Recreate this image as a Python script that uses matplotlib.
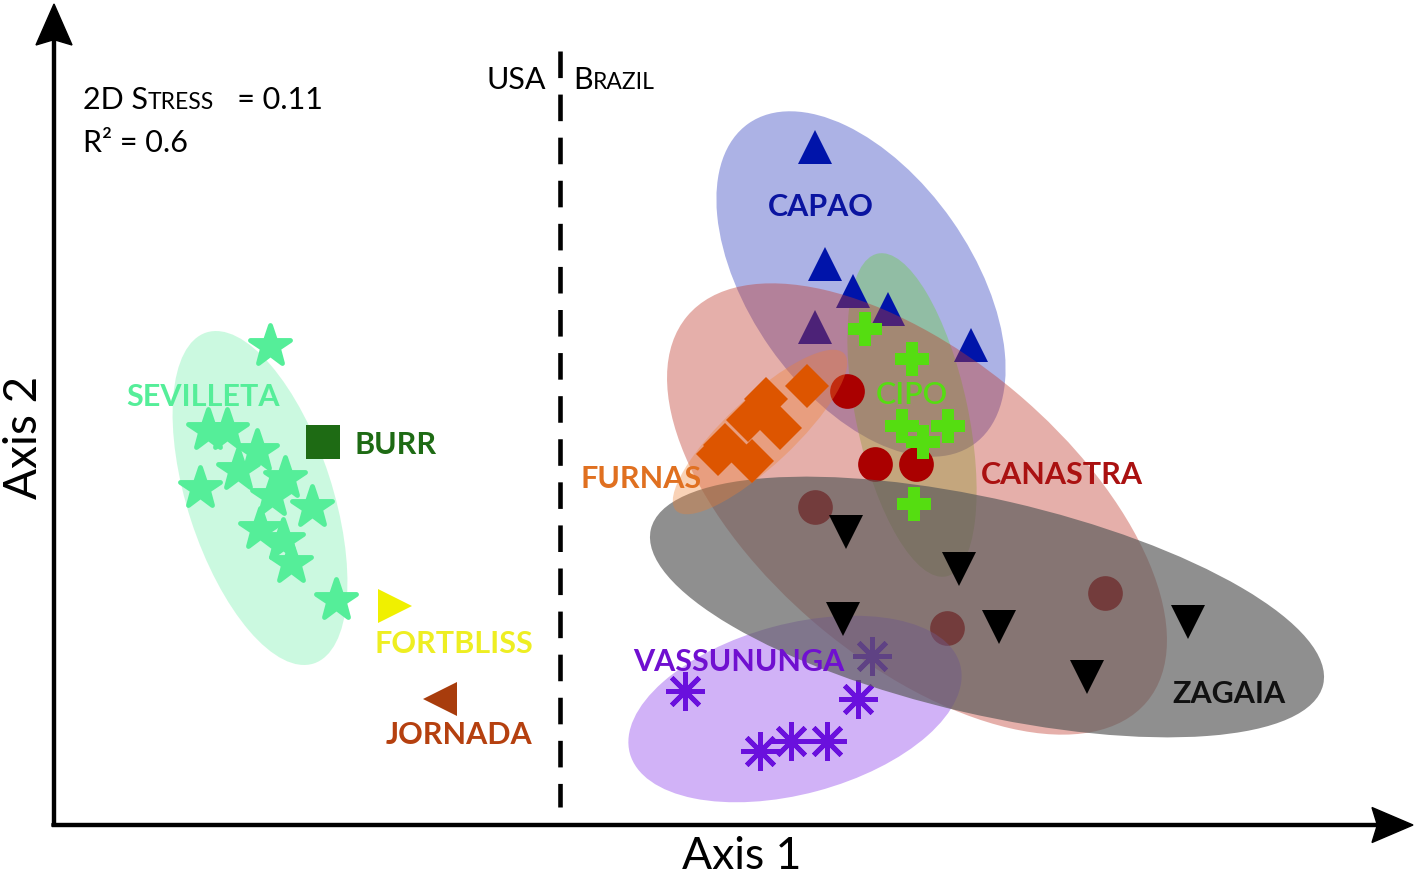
import matplotlib
matplotlib.use("Agg")
import matplotlib.pyplot as plt
from matplotlib.patches import Ellipse
from matplotlib.markers import MarkerStyle

plt.rcParams['font.family'] = ['Lato', 'DejaVu Sans']

# --- ordination scores (image-like units, y grows downward) ---
sevilleta_x = [270, 208, 227, 257, 238, 200, 285, 272, 312, 260, 283, 291, 336]
sevilleta_y = [347, 431, 431, 452, 471, 489, 479, 497, 508, 530, 541, 564, 601]
burr_x, burr_y = [323], [443]
fortbliss_x, fortbliss_y = [395], [607]
jornada_x, jornada_y = [440], [700]

capao_x = [815, 825, 853, 888, 815, 971]
capao_y = [148, 265, 292, 310, 328, 346]
cipo_x = [865, 912, 902, 948, 923, 914]
cipo_y = [330, 360, 427, 427, 443, 505]
furnas_x = [807, 766, 748, 780, 725, 752, 718]
furnas_y = [387, 400, 421, 429, 446, 462, 455]
canastra_x = [847, 875, 916, 815, 1105, 947]
canastra_y = [392, 465, 465, 508, 594, 629]
zagaia_x = [846, 959, 843, 999, 1087, 1188]
zagaia_y = [533, 570, 620, 628, 678, 623]
vassununga_x = [872, 685, 858, 760, 791, 827]
vassununga_y = [657, 692, 700, 752, 742, 742]

# group ellipses: centre x, centre y, width, height, angle
ell_sevilleta = (260, 499, 348, 145, 72)
ell_capao = (861, 285, 392, 222, 55)
ell_cipo = (912, 416, 330, 112, 78)
ell_canastra = (917, 510, 600, 306, 40)
ell_vassununga = (795, 710, 342, 170, -15)
ell_zagaia = (987, 608, 690, 215, 13)
ell_furnas = (760, 433, 230, 68, -43)

fig = plt.figure(figsize=(14.17, 8.78), dpi=100)
ax = fig.add_axes([0, 0, 1, 1])
ax.set_xlim(0, 1417)
ax.set_ylim(878, 0)
ax.axis('off')
renderer = fig.canvas.get_renderer()


def ellipse(e, color, alpha, z):
    cx, cy, w, h, ang = e
    ax.add_patch(Ellipse((cx, cy), w, h, angle=ang, facecolor=color,
                         edgecolor='none', alpha=alpha, zorder=z))


def chain(x, y, parts):
    # small caps: write pieces one after the other
    for s, size in parts:
        t = ax.text(x, y, s, fontsize=size, va='baseline')
        x += t.get_window_extent(renderer).width


# USA side
ellipse(ell_sevilleta, '#55ee99', 0.3, 1)
star = MarkerStyle('*', joinstyle='round')
ax.plot(sevilleta_x, sevilleta_y, ls='none', marker=star, ms=30, mew=3.5,
        color='#55ee99', zorder=2)
ax.plot(burr_x, burr_y, ls='none', marker='s', ms=25, mew=0, color='#1e6b14', zorder=2)
ax.plot(fortbliss_x, fortbliss_y, ls='none', marker='>', ms=25, mew=0, color='#f0f000', zorder=2)
ax.plot(jornada_x, jornada_y, ls='none', marker='<', ms=25, mew=0, color='#a83c0c', zorder=2)

# Brazil side
ellipse(ell_capao, '#3040c0', 0.4, 1)
ellipse(ell_cipo, '#5fd22c', 0.35, 2)
ax.plot(capao_x, capao_y, ls='none', marker='^', ms=25, mew=0, color='#0014aa', zorder=3)
ellipse(ell_canastra, '#c0392b', 0.4, 4)
ax.plot(canastra_x, canastra_y, ls='none', marker='o', ms=25, mew=0, color='#aa0000', zorder=5)
ellipse(ell_vassununga, '#9955ee', 0.45, 6)
ax.plot(vassununga_x, vassununga_y, ls='none', marker=(8, 2, 0), ms=28, mew=3.5,
        color='#6a10dd', zorder=7)
ellipse(ell_zagaia, '#5a5a5a', 0.68, 8)
ax.plot(zagaia_x, zagaia_y, ls='none', marker='v', ms=25, mew=0, color='black', zorder=9)
ellipse(ell_furnas, '#f08030', 0.35, 10)
ax.plot(furnas_x, furnas_y, ls='none', marker='D', ms=22, mew=0, color='#dd5500', zorder=11)
ax.plot(cipo_x, cipo_y, ls='none', marker='P', ms=25, mew=0, color='#55dd11', zorder=12)

# group names
labels = [
    ('SEVILLETA', 203, 406, '#55ee99', 'bold'),
    ('BURR', 396, 454, '#1e6b14', 'bold'),
    ('FORTBLISS', 454, 653, '#eeee22', 'bold'),
    ('JORNADA', 459, 744, '#b5400f', 'bold'),
    ('CAPAO', 821, 216, '#0a14a0', 'bold'),
    ('CIPO', 912, 404, '#55dd11', 'semibold'),
    ('FURNAS', 641, 488, '#e07020', 'bold'),
    ('CANASTRA', 1062, 484, '#aa1111', 'bold'),
    ('ZAGAIA', 1229, 703, '#111111', 'bold'),
    ('VASSUNUNGA', 739, 671, '#7010d0', 'bold'),
]
for txt, x, y, c, w in labels:
    ax.text(x, y, txt, color=c, fontsize=22, fontweight=w, ha='center', va='baseline', zorder=20)

# stress / fit
chain(83, 109, [('2D S', 22), ('TRESS', 16.5), ('   = 0.11', 22)])
ax.text(83, 152, 'R² = 0.6', fontsize=22, va='baseline')

# country divide
divider_x = 560
ax.vlines(divider_x, 52, 808, colors='black', lw=3.3, linestyles=(0, (5.8, 3.6)), zorder=15)
ax.text(546, 89, 'USA', fontsize=22, ha='right', va='baseline')
chain(573, 89, [('B', 22), ('RAZIL', 16.5)])

# axes as arrows
ax.arrow(54, 827, 0, -822, width=3, head_width=36, head_length=41, overhang=0.12,
         length_includes_head=True, color='black', zorder=16)
ax.arrow(52, 826, 1361, 0, width=3, head_width=35, head_length=41, overhang=0.12,
         length_includes_head=True, color='black', zorder=16)
ax.text(742, 877, 'Axis 1', fontsize=32, ha='center', va='bottom')
ax.text(24, 437, 'Axis 2', fontsize=33, ha='center', va='center', rotation=90)

fig.savefig('out.png', dpi=100)
